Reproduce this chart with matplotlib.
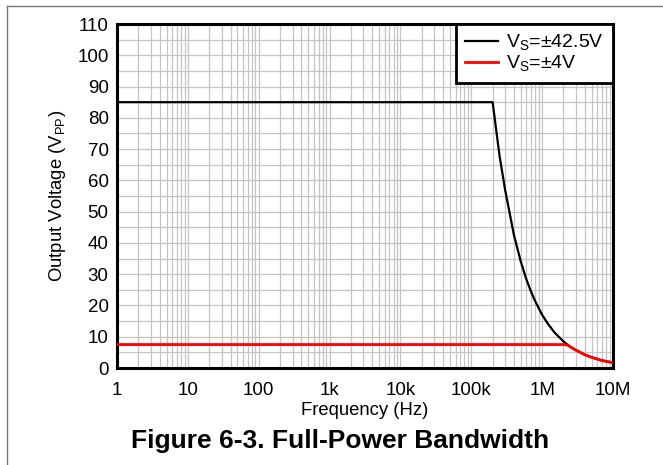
import matplotlib.pyplot as plt
import numpy as np
from matplotlib.lines import Line2D
from matplotlib.ticker import FixedLocator, LogLocator, MultipleLocator, NullFormatter

plt.rcParams["font.family"] = ["Liberation Sans", "DejaVu Sans"]

# values
freq_hi = [1, 2e5, 2.5e5, 3e5, 4e5, 5e5, 6e5, 7e5, 8e5, 1e6, 1.2e6, 1.5e6, 2e6, 2.5e6,
           3e6, 4e6, 5e6, 7e6, 1e7]
vout_hi = [85, 85, 68, 57, 42.5, 34, 28.3, 24.3, 21.3, 17, 14.2, 11.3, 8.5, 6.8,
           5.7, 4.25, 3.4, 2.4, 1.7]
freq_lo = [1, 2e6, 2.3e6, 2.6e6, 3e6, 4e6, 5e6, 7e6, 1e7]
vout_lo = [7.5, 7.5, 7.3, 6.5, 5.7, 4.25, 3.4, 2.4, 1.7]

xticks = [1, 10, 100, 1e3, 1e4, 1e5, 1e6, 1e7]
xtick_labels = ["1", "10", "100", "1k", "10k", "100k", "1M", "10M"]
yticks = list(range(0, 111, 10))

fig = plt.figure(figsize=(6.63, 4.65), dpi=100)
ax = fig.add_axes([117 / 663, 1 - 368 / 465, 496 / 663, 344 / 465])

ax.plot(freq_hi, vout_hi, color="black", linewidth=1.6, label=r"V$_\mathregular{S}$=±42.5V",
        zorder=3)
ax.plot(freq_lo, vout_lo, color="#ff0000", linewidth=2.0, label=r"V$_\mathregular{S}$=±4V",
        zorder=4)

ax.set_xscale("log")
ax.set_xlim(1, 1e7)
ax.set_ylim(0, 110)
ax.xaxis.set_major_locator(FixedLocator(xticks))
ax.set_xticklabels(xtick_labels)
ax.xaxis.set_minor_locator(LogLocator(base=10, subs=np.arange(2, 10), numticks=20))
ax.xaxis.set_minor_formatter(NullFormatter())
ax.set_yticks(yticks)
ax.yaxis.set_minor_locator(MultipleLocator(5))

ax.grid(True, which="both", color="#c4c4c4", linewidth=0.9)
ax.set_axisbelow(True)
ax.tick_params(which="both", length=0, labelsize=13.5)
ax.tick_params(axis="x", pad=10)
ax.tick_params(axis="y", pad=6)
for s in ax.spines.values():
    s.set_linewidth(2.2)

ax.set_xlabel("Frequency (Hz)", fontsize=13.3, labelpad=2)
ax.set_ylabel(r"Output Voltage (V$_\mathregular{PP}$)", fontsize=13.3, labelpad=7)

leg = ax.legend(loc="upper right", borderaxespad=0, fancybox=False, framealpha=1,
                edgecolor="black", fontsize=14, handlelength=1.7, handletextpad=0.45,
                borderpad=0.45, labelspacing=0.05)
leg.get_frame().set_linewidth(2.0)

fig.text(340 / 663, 1 - 441 / 465, "Figure 6-3. Full-Power Bandwidth", ha="center",
         va="center", fontsize=19, fontweight="bold")

# outer border of the figure panel
fig.add_artist(Line2D([7 / 663, 7 / 663], [0, 1 - 6 / 465], color="#777777", linewidth=1.0))
fig.add_artist(Line2D([7 / 663, 1], [1 - 6 / 465, 1 - 6 / 465], color="#777777", linewidth=1.0))

fig.savefig("out.png", dpi=100)
